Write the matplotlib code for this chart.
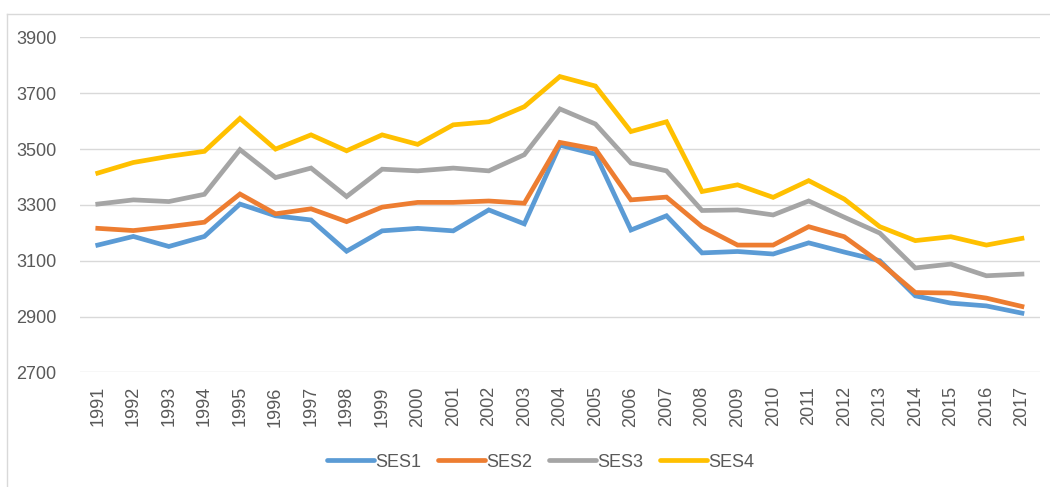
import matplotlib.pyplot as plt
from matplotlib.lines import Line2D

years = list(range(1991, 2018))

ses1 = [3156, 3187, 3151, 3187, 3303, 3261, 3246, 3134, 3207, 3216, 3207, 3282, 3232, 3514,
        3482, 3210, 3261, 3128, 3133, 3124, 3164, 3131, 3100, 2974, 2948, 2938, 2912]
ses2 = [3216, 3208, 3222, 3238, 3339, 3268, 3286, 3240, 3292, 3309, 3309, 3314, 3306, 3524,
        3500, 3318, 3328, 3222, 3156, 3156, 3222, 3186, 3094, 2986, 2984, 2966, 2936]
ses3 = [3303, 3318, 3312, 3338, 3498, 3398, 3432, 3330, 3428, 3422, 3432, 3422, 3480, 3644,
        3590, 3450, 3422, 3280, 3282, 3264, 3314, 3256, 3199, 3074, 3088, 3046, 3052]
ses4 = [3414, 3452, 3474, 3492, 3610, 3500, 3551, 3494, 3551, 3517, 3587, 3598, 3652, 3760,
        3726, 3563, 3598, 3348, 3372, 3327, 3387, 3321, 3222, 3172, 3186, 3156, 3180]

series = [("SES1", ses1, "#5B9BD5"), ("SES2", ses2, "#ED7D31"),
          ("SES3", ses3, "#A5A5A5"), ("SES4", ses4, "#FFC000")]

TXT = "#595959"
plt.rcParams["font.family"] = ["Liberation Sans", "DejaVu Sans"]

fig = plt.figure(figsize=(10.5, 4.87), dpi=100)
ax = fig.add_axes([0.0762, 0.2355, 0.914, 0.6875])

x = list(range(len(years)))
for name, vals, col in series:
    ax.plot(x, vals, color=col, linewidth=3.4, label=name, solid_joinstyle="miter")

ax.set_xlim(-0.5, len(years) - 0.5)
ax.set_ylim(2700, 3900)
ax.set_yticks(range(2700, 3901, 200))
ax.set_xticks(x)
ax.set_xticklabels([str(y) for y in years], rotation=90)
ax.tick_params(axis="both", length=0, colors=TXT, labelsize=13)
ax.tick_params(axis="y", pad=17)
ax.tick_params(axis="x", pad=10)
ax.grid(axis="y", color="#D9D9D9", linewidth=1.0)
ax.set_axisbelow(True)
for s in ax.spines.values():
    s.set_visible(False)

handles = [Line2D([0], [0], color=c, linewidth=3.4, solid_capstyle="round") for _, _, c in series]
fig.legend(handles, [n for n, _, _ in series], loc="center", bbox_to_anchor=(0.515, 0.051),
           ncol=4, frameon=False, fontsize=13, handlelength=2.6, handletextpad=0.1,
           columnspacing=0.9, labelcolor=TXT)

# chart frame (top and left edges visible in the crop)
fig.add_artist(Line2D([7 / 1050, 7 / 1050], [0, 1 - 14 / 487], color="#D9D9D9", linewidth=1.0))
fig.add_artist(Line2D([7 / 1050, 1], [1 - 14 / 487, 1 - 14 / 487], color="#D9D9D9", linewidth=1.0))

fig.savefig("out.png", dpi=100)
